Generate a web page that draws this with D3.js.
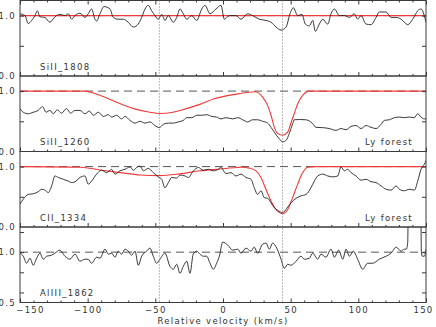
<!DOCTYPE html>
<html>
<head>
<meta charset="utf-8">
<script src="https://cdn.jsdelivr.net/npm/d3@7"></script>
<style>
	body { margin: 0; background: #fff; }
	text { font-family: 'DejaVu Sans', sans-serif; font-size: 8.5px; fill: #333; letter-spacing: 1.3px; }
</style>
</head>
<body>
<script>
// velocity (km/s), normalised flux
const siII1808 = [
	[-150,1.03],[-146.3,1.00],[-143.9,0.87],[-141.4,0.92],[-138.9,1.00],[-137.2,1.08],[-135.3,0.98],[-131.6,0.97],
	[-127.9,0.89],[-124.2,0.98],[-120.5,1.02],[-116.8,1.00],[-114.3,1.03],[-111.8,0.94],[-109.4,1.00],[-105.7,1.04],
	[-102,0.97],[-99.6,1.03],[-97.1,1.11],[-94.6,0.94],[-93.4,0.91],[-90.9,1.03],[-88,1.15],[-83.5,1.11],[-81.1,0.97],
	[-77.4,0.94],[-73.7,0.94],[-70,0.89],[-66.3,0.81],[-62.6,0.86],[-60.1,0.97],[-57.6,1.11],[-55.2,1.17],[-52.7,1.08],
	[-50.3,1.00],[-47.8,0.94],[-45.3,1.02],[-42.9,0.92],[-40.4,1.00],[-36.7,0.89],[-34.2,0.97],[-31.8,1.11],[-29.3,1.03],
	[-26.8,0.94],[-23.1,1.00],[-19.4,0.92],[-15.7,1.11],[-13.3,1.17],[-9.6,1.03],[-5.2,1.11],[-1.5,1.17],[1.0,0.94],
	[4.7,1.00],[9.6,1.00],[13.3,0.94],[18.2,1.03],[21.9,1.00],[26.8,0.94],[31.8,0.92],[35.5,0.89],[39.2,0.81],[42.9,0.76],
	[46.6,0.81],[49.5,1.03],[52,1.13],[55.2,1.00],[58.4,1.02],[60.8,0.86],[63.8,0.83],[66.3,0.92],[68.2,0.74],[71.2,0.86],
	[73.7,0.94],[77.4,0.86],[79.8,1.03],[82.3,1.11],[86,1.00],[89.7,1.00],[93.4,0.97],[97,1.03],[99.5,0.94],[102,1.00],
	[105.7,0.86],[109.4,0.85],[113.1,0.97],[115.5,1.06],[120.5,1.06],[124.2,0.97],[127.9,0.97],[131.6,0.94],[134,0.89],
	[136.5,0.85],[140.2,0.94],[143.9,1.08],[146.3,1.11],[150,0.89]
]
const siII1808Fit = [[-150,1.0],[150,1.0]]

const siII1260 = [
	[-150,0.71],[-147.6,0.65],[-143.9,0.625],[-140.2,0.65],[-136.5,0.68],[-133.3,0.745],[-130.8,0.65],[-127.9,0.68],
	[-125.4,0.625],[-122.5,0.69],[-119.3,0.635],[-115.6,0.71],[-112.6,0.635],[-109.4,0.68],[-105.7,0.68],[-102,0.625],
	[-98.8,0.67],[-95.8,0.60],[-92.1,0.65],[-88.4,0.58],[-84.7,0.61],[-82.3,0.57],[-78.6,0.60],[-74.9,0.54],[-72.4,0.58],
	[-68.7,0.515],[-65,0.47],[-61.3,0.50],[-57.6,0.47],[-54,0.49],[-50.3,0.43],[-47.1,0.395],[-44.1,0.45],[-40.4,0.47],
	[-36.7,0.47],[-33,0.49],[-29.3,0.515],[-26.8,0.56],[-23.1,0.56],[-19.4,0.60],[-15.7,0.60],[-12,0.61],[-8.3,0.58],
	[-4.7,0.57],[-1.5,0.54],[2.2,0.56],[7.2,0.54],[10.9,0.56],[14.6,0.525],[18.2,0.49],[21.9,0.525],[25.6,0.525],
	[29.3,0.50],[33,0.47],[35.5,0.40],[37.9,0.32],[41.6,0.21],[44.1,0.16],[46.6,0.185],[49,0.30],[51.5,0.46],[52.7,0.525],
	[56.4,0.53],[61.4,0.525],[66.3,0.46],[68.7,0.40],[73.7,0.395],[78.6,0.38],[83.5,0.35],[87.2,0.38],[90.9,0.36],
	[94.6,0.415],[98.3,0.43],[102,0.38],[105.7,0.43],[109.4,0.40],[113.1,0.38],[116.8,0.45],[119.2,0.515],[122.9,0.525],
	[126.6,0.56],[130.3,0.57],[134,0.56],[137.7,0.57],[141.4,0.56],[143.9,0.625],[146.3,0.57],[148.8,0.54],[150,0.54]
]
const siII1260Fit = [
	[-150,1.0],[-102,1.0],[-91,0.93],[-79,0.82],[-66,0.71],[-54,0.65],[-47,0.63],[-37,0.65],[-27,0.71],[-17,0.78],
	[-7,0.87],[10,0.95],[24,0.99],[29.3,0.90],[33,0.76],[35.5,0.60],[37.9,0.40],[40.4,0.30],[44.1,0.27],[47.8,0.32],
	[50.3,0.48],[52.7,0.63],[55.2,0.79],[58.9,0.93],[63.8,1.0],[150,1.0]
]

const cII1334 = [
	[-150,0.376],[-147.6,0.46],[-143.9,0.54],[-140.2,0.55],[-136.5,0.585],[-134,0.625],[-131.6,0.61],[-129.1,0.57],
	[-126.6,0.68],[-124.2,0.845],[-121.7,0.82],[-118,0.79],[-114.3,0.76],[-111.8,0.735],[-108.6,0.76],[-105.7,0.82],
	[-102,0.845],[-99.6,0.71],[-97.1,0.76],[-93.4,0.875],[-89.7,0.94],[-86,0.90],[-82.3,0.955],[-79.8,0.875],[-76.1,0.93],
	[-72.4,0.955],[-68.7,0.995],[-66.3,0.94],[-63.8,0.985],[-61.3,1.01],[-58.9,0.93],[-55.2,0.97],[-51.5,0.90],[-47.8,0.83],
	[-45.3,0.79],[-42.9,0.65],[-40.4,0.735],[-37.9,0.82],[-34.2,0.81],[-31.8,0.86],[-28.1,0.845],[-25.6,0.82],[-21.9,0.93],
	[-18.2,0.985],[-14.6,0.94],[-10.9,0.955],[-7.2,0.93],[-3.5,0.955],[-1.5,0.985],[2.2,0.885],[5.9,0.90],[9.6,0.845],
	[13.3,0.875],[17,0.82],[20.7,0.79],[23.1,0.65],[25.6,0.54],[28.1,0.60],[30.5,0.485],[33,0.475],[35.5,0.40],[37.9,0.32],
	[40.4,0.275],[44.1,0.237],[47.1,0.31],[50.3,0.40],[54,0.475],[57.6,0.515],[61.4,0.54],[65,0.65],[67.5,0.76],[70,0.845],
	[73.7,0.875],[77.4,0.845],[81.1,0.83],[84.8,0.845],[87.2,0.995],[89.7,0.93],[92.1,0.955],[94.6,0.90],[98.3,0.845],
	[102,0.775],[105.7,0.79],[109.4,0.75],[113.1,0.735],[116.8,0.68],[120.5,0.625],[124.2,0.61],[127.9,0.68],[130.3,0.625],
	[134,0.60],[137.7,0.625],[141.4,0.61],[143.9,0.76],[146.3,0.955],[149.5,1.07],[150,1.10]
]
const cII1334Fit = [
	[-150,1.0],[-105,0.99],[-91,0.945],[-76,0.90],[-61,0.86],[-47,0.85],[-32,0.88],[-17,0.93],[-2,0.96],[10,0.985],
	[14,0.99],[19.5,0.975],[24.4,0.93],[28.1,0.82],[31.8,0.62],[35.5,0.43],[39.2,0.29],[44.1,0.22],[47.8,0.29],[51.5,0.49],
	[55.2,0.71],[58.4,0.88],[62.6,0.99],[68.7,1.0],[150,1.0]
]

const alIII1862 = [
	[-150,0.99],[-147.6,0.96],[-145.1,0.89],[-142.6,0.94],[-140.2,0.87],[-137.7,0.94],[-135.3,0.99],[-132.8,0.93],
	[-130.3,0.96],[-126.6,0.97],[-124.2,0.99],[-120.5,1.02],[-116.8,0.96],[-113.1,0.93],[-109.4,0.98],[-105.7,0.91],
	[-102,0.93],[-99.6,0.93],[-97.1,0.89],[-93.4,0.95],[-90.9,0.94],[-87.2,1.03],[-84.7,0.98],[-82.3,0.99],[-79.8,0.95],
	[-77.4,1.01],[-74.9,0.98],[-72.4,1.03],[-70,1.01],[-67.5,0.97],[-65,1.01],[-62.6,0.87],[-60.1,0.96],[-56.4,1.01],
	[-54,1.04],[-51.5,0.96],[-49,0.89],[-46.6,0.93],[-42.9,0.99],[-39.2,0.86],[-36.7,0.83],[-34.2,0.88],[-31.8,0.79],
	[-29.3,0.86],[-26.8,0.91],[-24.4,0.79],[-22,0.98],[-19.4,1.01],[-17,0.98],[-14.6,0.96],[-12.1,0.96],[-9.6,0.89],
	[-7.2,0.83],[-4.7,0.89],[-2.7,0.96],[-0.2,1.10],[3.5,1.07],[7.2,1.02],[10.9,1.03],[13.3,0.99],[17,1.04],[20.7,1.01],
	[23.1,1.05],[25.6,0.99],[29.3,1.08],[31.8,1.09],[34.2,1.03],[36.7,1.09],[39.7,1.04],[42.9,0.93],[45.3,0.84],[47.8,0.88],
	[50.3,0.87],[54,0.91],[57.6,0.96],[60.1,0.93],[63.8,0.94],[66.3,0.99],[70,0.93],[72.4,0.98],[76.1,0.95],[79.8,1.03],
	[82.3,0.95],[85.5,1.02],[88.5,0.93],[90.9,1.03],[93.4,0.96],[96.3,1.01],[99.5,0.93],[103.3,0.83],[106.9,0.89],
	[110.6,0.89],[115.5,0.93],[120.5,0.96],[124.2,0.99],[127.9,1.05],[131.6,1.01],[134,1.03],[135.5,1.03],[136.5,1.1],
	[137,1.6],[146,1.6],[146.6,1.0],[147.3,0.96],[148.8,0.96],[150,1.03]
]

const panelLabels = ['SiII_1808', 'SiII_1260', 'CII_1334', 'AlIII_1862']
const panelNotes = ['', 'Ly forest', 'Ly forest', '']
const panelData = [siII1808, siII1260, cII1334, alIII1862]
const panelFits = [siII1808Fit, siII1260Fit, cII1334Fit, null]
const yDomains = [[0, 1.25], [0, 1.25], [0, 1.25], [0.5, 1.25]]
const yTickVals = [[0.5, 1.0], [0.5, 1.0], [0.5, 1.0], [0.6, 0.8, 1.0, 1.2]]
const yLabelVals = [[0, 1.0], [0, 1.0], [0, 1.0], [0.5, 1.0]]
const componentVel = [-47, 44]
const xMajor = [-150, -100, -50, 0, 50, 100, 150]
const xMinor = d3.range(-140, 150, 10).filter(v => v % 50 != 0)

const width = 436
const height = 327
const left = 20
const right = 426
const panelTops = [0.5, 76, 151.5, 227]
const panelH = 75.5

const svg = d3.select('body').append('svg')
	.attr('width', width)
	.attr('height', height)

const x = d3.scaleLinear()
	.domain([-150, 150])
	.range([left, right])

const axisCol = '#3a3a3a'

panelData.forEach((data, i) => {
	const top = panelTops[i]
	const bottom = top + panelH
	const y = d3.scaleLinear()
		.domain(yDomains[i])
		.range([bottom, top])

	const g = svg.append('g')

	g.append('clipPath')
		.attr('id', `clip${i}`)
		.append('rect')
			.attr('x', left)
			.attr('y', top)
			.attr('width', right - left)
			.attr('height', panelH)

	const plot = g.append('g').attr('clip-path', `url(#clip${i})`)

	// continuum
	plot.append('line')
		.attr('x1', left).attr('x2', right)
		.attr('y1', y(1)).attr('y2', y(1))
		.attr('stroke', '#555')
		.attr('stroke-dasharray', '8,5')

	const line = d3.line()
		.x(d => x(d[0]))
		.y(d => y(d[1]))

	if (panelFits[i]) {
		plot.append('path')
			.datum(panelFits[i])
			.attr('d', line.curve(d3.curveMonotoneX))
			.attr('fill', 'none')
			.attr('stroke', '#f23a3a')
			.attr('stroke-width', 1.1)
	}

	plot.append('path')
		.datum(data)
		.attr('d', line.curve(d3.curveMonotoneX))
		.attr('fill', 'none')
		.attr('stroke', '#222')
		.attr('stroke-width', 0.9)

	// frame
	g.append('rect')
		.attr('x', left)
		.attr('y', top)
		.attr('width', right - left)
		.attr('height', panelH)
		.attr('fill', 'none')
		.attr('stroke', axisCol)

	// x ticks, pointing in
	const addX = (vals, size, pos) => {
		const ax = (pos == 'bottom' ? d3.axisBottom(x).tickSize(-size) : d3.axisTop(x).tickSize(-size))
			.tickValues(vals)
			.tickFormat('')
		g.append('g')
			.attr('transform', `translate(0,${pos == 'bottom' ? bottom : top})`)
			.call(ax)
			.call(s => s.select('.domain').remove())
			.selectAll('line').attr('stroke', axisCol)
	}
	addX(xMajor, 4, 'bottom')
	addX(xMinor, 2, 'bottom')
	if (i == 0) {
		addX(xMajor, 4, 'top')
		addX(xMinor, 2, 'top')
	}

	// y ticks both sides
	g.append('g')
		.attr('transform', `translate(${left},0)`)
		.call(d3.axisLeft(y).tickValues(yTickVals[i]).tickSize(-4).tickFormat(''))
		.call(s => s.select('.domain').remove())
		.selectAll('line').attr('stroke', axisCol)
	g.append('g')
		.attr('transform', `translate(${right},0)`)
		.call(d3.axisRight(y).tickValues(yTickVals[i]).tickSize(-4).tickFormat(''))
		.call(s => s.select('.domain').remove())
		.selectAll('line').attr('stroke', axisCol)

	const yl = g.append('g')
		.attr('transform', `translate(${left},0)`)
		.call(d3.axisLeft(y).tickValues(yLabelVals[i]).tickSize(0).tickPadding(4).tickFormat(d3.format('.1f')))
	yl.select('.domain').remove()
	yl.selectAll('text')
		.attr('font-family', null)
		.attr('font-size', null)
		.attr('fill', null)

	g.append('text')
		.attr('x', 40)
		.attr('y', bottom - 6.5)
		.text(panelLabels[i])

	if (panelNotes[i]) {
		g.append('text')
			.attr('x', 413)
			.attr('y', bottom - 6.5)
			.attr('text-anchor', 'end')
			.text(panelNotes[i])
	}

	if (i == panelData.length - 1) {
		const xl = g.append('g')
			.attr('transform', `translate(0,${bottom})`)
			.call(d3.axisBottom(x).tickValues(xMajor).tickSize(0).tickPadding(4))
		xl.select('.domain').remove()
		xl.selectAll('text')
			.attr('font-family', null)
			.attr('font-size', null)
			.attr('fill', null)
			// end labels are pulled inside the frame
			.attr('dx', d => d == -150 ? 10 : d == 150 ? -3 : 0)
	}
})

// component markers through all panels
svg.selectAll('.comp')
	.data(componentVel)
	.enter()
	.append('line')
		.attr('class', 'comp')
		.attr('x1', d => x(d)).attr('x2', d => x(d))
		.attr('y1', panelTops[0])
		.attr('y2', panelTops[3] + panelH)
		.attr('stroke', '#777')
		.attr('stroke-dasharray', '1,2')

svg.append('text')
	.attr('x', (left + right) / 2)
	.attr('y', 324)
	.attr('text-anchor', 'middle')
	.text('Relative velocity (km/s)')
</script>
</body>
</html>
